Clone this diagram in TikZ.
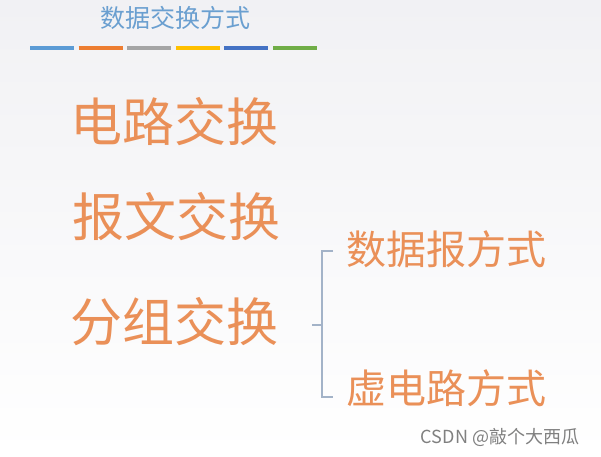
\documentclass[tikz,border=0pt]{standalone}
\usepackage{fontspec}
\newfontfamily\cjk{Noto Sans CJK SC}
\definecolor{fond}{HTML}{F1F1F4}
\definecolor{bleutitre}{HTML}{6A9FD0}
\definecolor{orangetexte}{HTML}{EA9058}
\definecolor{grisaccolade}{HTML}{A3B3C8}
\definecolor{barreA}{HTML}{5B9BD5}
\definecolor{barreB}{HTML}{ED7D31}
\definecolor{barreC}{HTML}{A5A5A5}
\definecolor{barreD}{HTML}{FFC000}
\definecolor{barreE}{HTML}{4472C4}
\definecolor{barreF}{HTML}{70AD47}

\begin{document}
\begin{tikzpicture}[x=1pt,y=-1pt]
\tikzstyle{titre}=[text=bleutitre,font=\cjk\fontsize{25}{25}\selectfont,inner sep=0]
\tikzstyle{grand}=[text=orangetexte,font=\cjk\fontsize{52}{52}\selectfont,anchor=west,inner sep=0]
\tikzstyle{moyen}=[text=orangetexte,font=\cjk\fontsize{40}{40}\selectfont,anchor=west,inner sep=0]
\tikzstyle{barre}=[line width=4pt]
\tikzstyle{accolade}=[draw=grisaccolade,line width=1.2pt]
\tikzstyle{filigrane}=[text=gray,font=\cjk\fontsize{18}{18}\selectfont,inner sep=0]

\fill[top color=fond,bottom color=white] (0,0) rectangle (601,456);
\useasboundingbox (0,0) rectangle (601,456);

\node[titre] (titre) at (175,18) {数据交换方式};

\foreach \couleur [count=\i from 0] in {barreA,barreB,barreC,barreD,barreE,barreF}
  \draw[barre,draw=\couleur] ({30+48.6*\i},48) -- +(44,0);

\node[grand] (circuit) at (70,122) {电路交换};
\node[grand] (message) at (72,217) {报文交换};
\node[grand] (paquet) at (70,322) {分组交换};

\node[moyen] (datagramme) at (346,249) {数据报方式};
\node[moyen] (virtuel) at (346,388) {虚电路方式};

\coordinate (haut) at (333,251);
\coordinate (bas) at (333,397);
\coordinate (pointe) at (322,325);
\coordinate (milieu) at (312,325);
\draw[accolade] (haut) -| (pointe) |- (bas);
\draw[accolade] (milieu) -- (pointe);

\node[filigrane] (marque) at (500,437) {CSDN @敲个大西瓜};

\end{tikzpicture}
\end{document}
